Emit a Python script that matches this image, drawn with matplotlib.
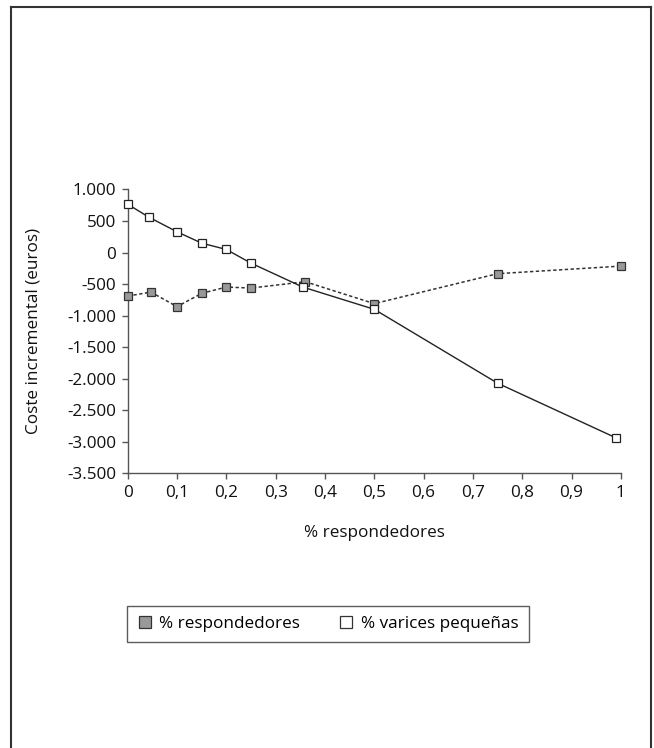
"""Coste incremental vs % respondedores."""

import matplotlib
matplotlib.use("Agg")
import matplotlib.pyplot as plt
from matplotlib.lines import Line2D
from matplotlib.ticker import FuncFormatter, MultipleLocator

plt.rcParams["font.family"] = ["Open Sans", "DejaVu Sans"]

# series
resp_x = [0.0, 0.047, 0.1, 0.15, 0.2, 0.25, 0.36, 0.5, 0.75, 1.0]
resp_y = [-690, -627, -858, -647, -547, -563, -462, -810, -335, -215]

var_x = [0.0, 0.043, 0.1, 0.15, 0.2, 0.25, 0.355, 0.5, 0.75, 0.99]
var_y = [766, 560, 329, 149, 49, -168, -547, -900, -2071, -2937]

x_label = "% respondedores"
y_label = "Coste incremental (euros)"
labels = ["% respondedores", "% varices pequeñas"]

FS = 12.3

fig = plt.figure(figsize=(6.54, 7.48), dpi=100)
ax = fig.add_axes([0.1953, 0.3672, 0.754, 0.3795])

ax.plot(resp_x, resp_y, color="#333333", lw=1.1, ls=(0, (2.2, 1.6)),
        marker="s", ms=5.5, mfc="#999999", mec="#333333", mew=0.9, clip_on=False, zorder=3)
ax.plot(var_x, var_y, color="#222222", lw=1.0, ls="-",
        marker="s", ms=5.5, mfc="white", mec="#222222", mew=0.9, clip_on=False, zorder=3)

ax.set_xlim(0, 1)
ax.set_ylim(-3500, 1000)
ax.xaxis.set_major_locator(MultipleLocator(0.1))
ax.yaxis.set_major_locator(MultipleLocator(500))


def fmt_x(v, _):
    s = f"{v:.1f}".rstrip("0").rstrip(".")
    return s.replace(".", ",")


def fmt_y(v, _):
    return f"{int(round(v)):,}".replace(",", ".")


ax.xaxis.set_major_formatter(FuncFormatter(fmt_x))
ax.yaxis.set_major_formatter(FuncFormatter(fmt_y))

for side in ("top", "right"):
    ax.spines[side].set_visible(False)
for side in ("left", "bottom"):
    ax.spines[side].set_color("#555555")
    ax.spines[side].set_linewidth(1.0)
ax.tick_params(direction="out", length=4.5, width=1.0, color="#555555",
               labelsize=FS, labelcolor="#111111", pad=4)

ax.set_xlabel(x_label, fontsize=FS, color="#111111", labelpad=17)
ax.set_ylabel(y_label, fontsize=FS, color="#111111", labelpad=18)

handles = [
    Line2D([], [], ls="none", marker="s", ms=9, mfc="#999999", mec="#333333", mew=0.9),
    Line2D([], [], ls="none", marker="s", ms=9, mfc="white", mec="#333333", mew=0.9),
]
leg = fig.legend(handles, labels, loc="upper left", bbox_to_anchor=(0.1937, 0.19, 0.615, 0.0),
                 ncol=2, mode="expand", frameon=True, fancybox=False, fontsize=FS,
                 borderaxespad=0, handlelength=0.9, handletextpad=0.4, borderpad=0.6,
                 columnspacing=2.0)
leg.get_frame().set_edgecolor("#333333")
leg.get_frame().set_linewidth(1.0)

# outer frame: left, top, right edges only
frame_kw = dict(color="#333333", lw=1.5, transform=fig.transFigure)
fig.add_artist(Line2D([0.0168, 0.0168], [0.0, 0.990], **frame_kw))
fig.add_artist(Line2D([0.0168, 0.9955], [0.990, 0.990], **frame_kw))
fig.add_artist(Line2D([0.9955, 0.9955], [0.0, 0.990], **frame_kw))

fig.savefig("out.png", dpi=100)
plt.close(fig)
